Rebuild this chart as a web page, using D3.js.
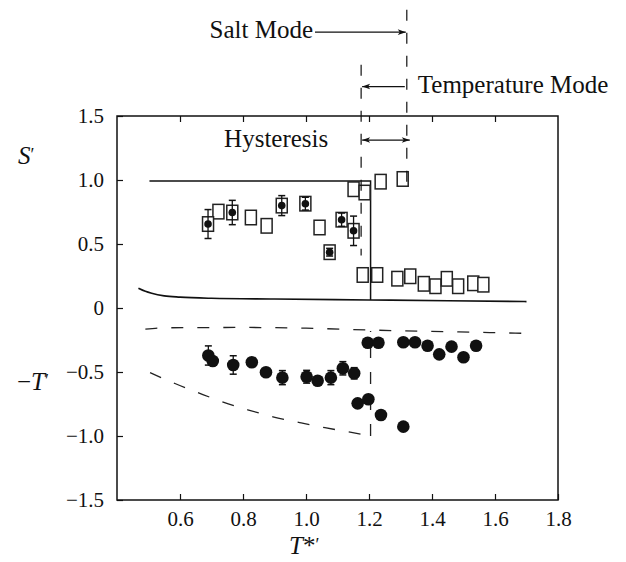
<!DOCTYPE html>
<html>
<head>
<meta charset="utf-8">
<script src="https://cdn.jsdelivr.net/npm/d3@7"></script>
<style>
  body { margin: 0; background: #fff; }
  svg { display: block; font-family: "Liberation Serif", "Times New Roman", serif; }
</style>
</head>
<body>
<div id="chart"></div>
<script>
// Layout
const WIDTH = 626, HEIGHT = 562;
const MARGIN = { top: 116, right: 68, bottom: 62, left: 117 };

// Axis ticks
const xTicks = [0.6, 0.8, 1.0, 1.2, 1.4, 1.6, 1.8];
const yTicks = [1.5, 1.0, 0.5, 0, -0.5, -1.0, -1.5];
const yTickLabels = ["1.5", "1.0", "0.5", "0", "−0.5", "−1.0", "−1.5"];

// S' open squares (experiment)
const sOpenX = [0.722, 0.825, 0.875, 1.043, 1.151, 1.186, 1.237, 1.307,
                1.18, 1.226, 1.29, 1.331, 1.374, 1.411, 1.447, 1.483, 1.531, 1.563];
const sOpenY = [0.753, 0.707, 0.642, 0.629, 0.928, 0.902, 0.987, 1.008,
                0.258, 0.258, 0.229, 0.248, 0.189, 0.17, 0.228, 0.17, 0.193, 0.182];

// S' squares with dot and error bar
const sDotX = [0.689, 0.766, 0.923, 0.998, 1.113, 1.151, 1.075];
const sDotY = [0.656, 0.746, 0.80, 0.815, 0.69, 0.603, 0.436];
const sDotErr = [0.113, 0.095, 0.078, 0.05, 0.052, 0.115, 0.03];

// -T' filled circles
const tX = [0.69, 0.704, 0.769, 0.828, 0.873, 0.925, 1.002, 1.037, 1.079, 1.117, 1.153,
            1.196, 1.23, 1.164, 1.198, 1.238, 1.309,
            1.309, 1.346, 1.386, 1.423, 1.462, 1.5, 1.54];
const tY = [-0.371, -0.414, -0.445, -0.424, -0.502, -0.544, -0.537, -0.568, -0.544, -0.471, -0.51,
            -0.271, -0.271, -0.745, -0.713, -0.836, -0.927,
            -0.268, -0.268, -0.295, -0.362, -0.302, -0.385, -0.295];
const tErr = [0.075, 0, 0.072, 0, 0, 0.055, 0.05, 0, 0.055, 0.052, 0.044,
              0, 0, 0, 0, 0, 0,
              0, 0, 0, 0, 0, 0, 0];

// Model curves
const sUpperX = [0.503, 1.205, 1.205];
const sUpperY = [0.993, 0.993, 0.063];
const sLowerX = [0.468, 0.49, 0.51, 0.55, 0.6, 0.7, 0.9, 1.2, 1.45, 1.7];
const sLowerY = [0.154, 0.13, 0.115, 0.095, 0.085, 0.076, 0.07, 0.063, 0.057, 0.05];
const tUpperX = [0.49, 0.55, 0.8, 1.0, 1.2, 1.45, 1.695];
const tUpperY = [-0.165, -0.155, -0.152, -0.158, -0.172, -0.185, -0.198];
const tLowerX = [0.505, 0.584, 0.661, 0.737, 0.815, 0.895, 0.98, 1.06, 1.14, 1.205];
const tLowerY = [-0.505, -0.59, -0.665, -0.735, -0.795, -0.85, -0.895, -0.935, -0.97, -1.0];
const tJumpX = [1.205, 1.205];
const tJumpY = [-1.0, -0.18];

// Annotation lines (data units, y beyond the axis range)
const saltLineX = 1.32, saltLineY = [2.33, 0.9];
const tempLineX = 1.175, tempLineY = [1.9, 0.41];
const saltArrowY = 2.155, tempArrowY = 1.73, hystArrowY = 1.312;

const innerW = WIDTH - MARGIN.left - MARGIN.right;
const innerH = HEIGHT - MARGIN.top - MARGIN.bottom;

const svg = d3.select("#chart").append("svg")
    .attr("width", WIDTH)
    .attr("height", HEIGHT);

const defs = svg.append("defs");
defs.append("marker")
    .attr("id", "arrow")
    .attr("viewBox", "0 -5 10 10")
    .attr("refX", 10).attr("refY", 0)
    .attr("markerWidth", 10).attr("markerHeight", 8)
    .attr("markerUnits", "userSpaceOnUse")
    .attr("orient", "auto-start-reverse")
    .append("path")
    .attr("d", "M0,-3.5L10,0L0,3.5L2.5,0Z")
    .attr("fill", "#111");

const g = svg.append("g")
    .attr("transform", `translate(${MARGIN.left},${MARGIN.top})`);

const x = d3.scaleLinear().domain([0.4, 1.8]).range([0, innerW]);
const y = d3.scaleLinear().domain([-1.5, 1.5]).range([innerH, 0]);

// Axes (ticks pointing inward)
g.append("g")
    .attr("transform", `translate(0,${innerH})`)
    .call(d3.axisBottom(x).tickValues(xTicks).tickFormat(d3.format(".1f"))
        .tickSizeInner(-6).tickSizeOuter(0).tickPadding(11));
g.append("g")
    .call(d3.axisTop(x).tickValues(xTicks.slice(0, -1)).tickFormat("")
        .tickSizeInner(-6).tickSizeOuter(0));
g.append("g")
    .call(d3.axisLeft(y).tickValues(yTicks).tickFormat((d, i) => yTickLabels[i])
        .tickSizeInner(-6).tickSizeOuter(0).tickPadding(13));

g.selectAll(".domain").remove();
g.selectAll(".tick line").attr("stroke", "#111").attr("stroke-width", 1.2);
g.selectAll(".tick text").attr("fill", "#111").style("font-size", "21px")
    .style("font-family", "'Liberation Serif', serif");

g.append("rect")
    .attr("width", innerW).attr("height", innerH)
    .attr("fill", "none").attr("stroke", "#111").attr("stroke-width", 1.5);

// Model curves
const zip = (a, b) => a.map((v, i) => [v, b[i]]);
const line = d3.line().x(d => x(d[0])).y(d => y(d[1]));
const smooth = d3.line().x(d => x(d[0])).y(d => y(d[1])).curve(d3.curveMonotoneX);

g.append("path").datum(zip(sUpperX, sUpperY))
    .attr("d", line).attr("fill", "none").attr("stroke", "#111").attr("stroke-width", 1.5);
g.append("path").datum(zip(sLowerX, sLowerY))
    .attr("d", smooth).attr("fill", "none").attr("stroke", "#111").attr("stroke-width", 1.6);
g.append("path").datum(zip(tUpperX, tUpperY))
    .attr("d", smooth).attr("fill", "none").attr("stroke", "#222").attr("stroke-width", 1.3)
    .attr("stroke-dasharray", "12,14");
g.append("path").datum(zip(tLowerX, tLowerY))
    .attr("d", smooth).attr("fill", "none").attr("stroke", "#222").attr("stroke-width", 1.3)
    .attr("stroke-dasharray", "12,14");
g.append("path").datum(zip(tJumpX, tJumpY))
    .attr("d", line).attr("fill", "none").attr("stroke", "#222").attr("stroke-width", 1.3)
    .attr("stroke-dasharray", "12,14");

// Error bars
function errorBars(xs, ys, errs) {
    xs.forEach((xv, i) => {
        if (!errs[i]) return;
        const cx = x(xv), y0 = y(ys[i] - errs[i]), y1 = y(ys[i] + errs[i]);
        g.append("line").attr("x1", cx).attr("x2", cx).attr("y1", y0).attr("y2", y1)
            .attr("stroke", "#111").attr("stroke-width", 1.3);
        [y0, y1].forEach(yy => g.append("line")
            .attr("x1", cx - 3.5).attr("x2", cx + 3.5).attr("y1", yy).attr("y2", yy)
            .attr("stroke", "#111").attr("stroke-width", 1.5));
    });
}

// S' squares
const SQ_W = 11, SQ_H = 14.5;
g.selectAll(".sq-open").data(zip(sOpenX, sOpenY)).join("rect")
    .attr("x", d => x(d[0]) - SQ_W / 2).attr("y", d => y(d[1]) - SQ_H / 2)
    .attr("width", SQ_W).attr("height", SQ_H)
    .attr("fill", "#fff").attr("stroke", "#222").attr("stroke-width", 1.5);
g.selectAll(".sq-dot").data(zip(sDotX, sDotY)).join("rect")
    .attr("x", d => x(d[0]) - SQ_W / 2).attr("y", d => y(d[1]) - SQ_H / 2)
    .attr("width", SQ_W).attr("height", SQ_H)
    .attr("fill", "#fff").attr("stroke", "#222").attr("stroke-width", 1.5);
errorBars(sDotX, sDotY, sDotErr);
g.selectAll(".dot-in").data(zip(sDotX, sDotY)).join("circle")
    .attr("cx", d => x(d[0])).attr("cy", d => y(d[1])).attr("r", 3.8)
    .attr("fill", "#111");

// -T' circles
errorBars(tX, tY, tErr);
g.selectAll(".t-dot").data(zip(tX, tY)).join("circle")
    .attr("cx", d => x(d[0])).attr("cy", d => y(d[1])).attr("r", 6.3)
    .attr("fill", "#111");

// Annotations
const annot = (x1, y1, x2, y2) => g.append("line")
    .attr("x1", x1).attr("y1", y1).attr("x2", x2).attr("y2", y2)
    .attr("stroke", "#111").attr("stroke-width", 1.2);

annot(x(saltLineX), y(saltLineY[0]), x(saltLineX), y(saltLineY[1]))
    .attr("stroke-dasharray", "11,12");
annot(x(tempLineX), y(tempLineY[0]), x(tempLineX), y(tempLineY[1]))
    .attr("stroke-dasharray", "11,12");

annot(x(1.0) + 9, y(saltArrowY), x(saltLineX) - 1, y(saltArrowY))
    .attr("marker-end", "url(#arrow)");
annot(x(saltLineX) - 2, y(tempArrowY), x(tempLineX) + 1, y(tempArrowY))
    .attr("marker-end", "url(#arrow)");
annot(x(tempLineX) + 1, y(hystArrowY), x(saltLineX) + 3, y(hystArrowY))
    .attr("marker-start", "url(#arrow)").attr("marker-end", "url(#arrow)");

const label = (tx, ty, txt, anchor) => g.append("text")
    .attr("x", tx).attr("y", ty).attr("text-anchor", anchor)
    .attr("fill", "#111").style("font-size", "25px").text(txt);

label(x(1.0) + 7, y(saltArrowY) + 6, "Salt Mode", "end");
label(x(saltLineX) + 11, y(tempArrowY) + 6, "Temperature Mode", "start");
label(x(0.74), y(hystArrowY) + 7, "Hysteresis", "start");

// Axis titles
const sTitle = svg.append("text").attr("x", 18).attr("y", 164)
    .style("font-size", "25px").attr("fill", "#111");
sTitle.append("tspan").style("font-style", "italic").text("S");
sTitle.append("tspan").attr("dy", -3).style("font-size", "18px").text("′");

const tTitle = svg.append("text").attr("x", 17).attr("y", 390)
    .style("font-size", "25px").attr("fill", "#111");
tTitle.append("tspan").text("−");
tTitle.append("tspan").style("font-style", "italic").text("T");
tTitle.append("tspan").attr("dy", -3).style("font-size", "18px").text("′");

const xTitle = svg.append("text").attr("x", 289).attr("y", 554)
    .style("font-size", "25px").attr("fill", "#111");
xTitle.append("tspan").style("font-style", "italic").text("T");
xTitle.append("tspan").text("*");
xTitle.append("tspan").attr("dy", -3).style("font-size", "18px").text("′");
</script>
</body>
</html>
